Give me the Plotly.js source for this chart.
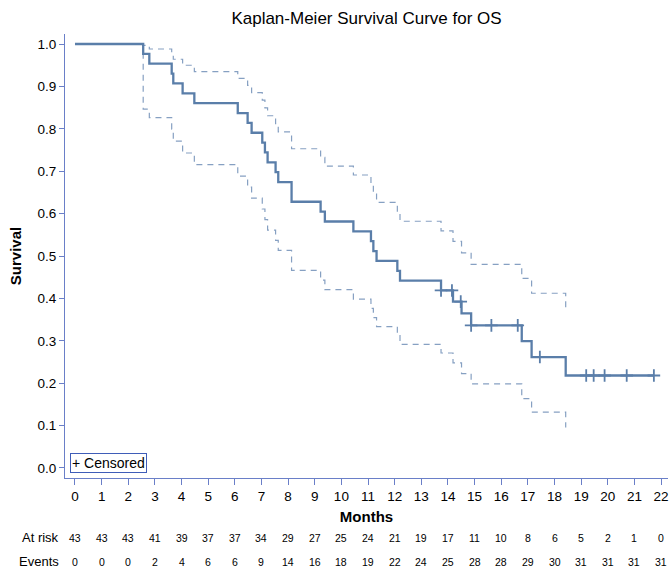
<!DOCTYPE html>
<html>
<head>
<meta charset="utf-8">
<script src="https://cdn.plot.ly/plotly-3.0.1.min.js"></script>
<style>html,body{margin:0;padding:0;background:#fff;}#chart{width:670px;height:570px;}</style>
</head>
<body>
<div id="chart"></div>
<script>
// Event (step) times in months and Kaplan-Meier survival after each step
const eventTimes = [0, 2.56, 2.79, 3.63, 3.69, 4.04, 4.48, 6.11, 6.48, 6.63, 7.03, 7.13, 7.23, 7.53, 7.63, 8.13,
  9.22, 9.38, 10.45, 11.11, 11.20, 11.32, 12.10, 12.20, 13.74, 14.19, 14.51, 14.87, 16.77, 17.14, 18.42];
const survival = [1, 0.9767, 0.9535, 0.9302, 0.9070, 0.8837, 0.8605, 0.8372, 0.8140, 0.7907, 0.7674, 0.7442,
  0.7209, 0.6977, 0.6744, 0.6279, 0.6047, 0.5814, 0.5581, 0.5349, 0.5116, 0.4884, 0.4651, 0.4419, 0.4187,
  0.3925, 0.3645, 0.3364, 0.2990, 0.2617, 0.2181];
const lastFollowUp = 21.73;
// 95% confidence limits at each step
const lowerCL = [1, 0.8462, 0.8266, 0.7991, 0.7709, 0.7429, 0.7155, 0.6886, 0.6623, 0.6364, 0.6109, 0.5859,
  0.5612, 0.5370, 0.5131, 0.4663, 0.4433, 0.4208, 0.3985, 0.3765, 0.3548, 0.3334, 0.3124, 0.2916, 0.2712,
  0.2477, 0.2226, 0.1983, 0.1636, 0.1316, 0.0954];
const upperCL = [1, 0.9967, 0.9882, 0.9770, 0.9640, 0.9499, 0.9348, 0.9189, 0.9023, 0.8851, 0.8675, 0.8494,
  0.8308, 0.8119, 0.7926, 0.7529, 0.7326, 0.7120, 0.6910, 0.6698, 0.6483, 0.6265, 0.6044, 0.5820, 0.5593,
  0.5343, 0.5076, 0.4803, 0.4471, 0.4121, 0.3726];
// Censored observations
const censorTimes = [13.74, 14.15, 14.48, 14.87, 15.63, 16.62, 17.45, 19.19, 19.47, 19.88, 20.71, 21.73];
const censorSurv = [0.4187, 0.4187, 0.3925, 0.3364, 0.3364, 0.3364, 0.2617, 0.2181, 0.2181, 0.2181, 0.2181, 0.2181];
// Risk table
const riskTimes = [0,1,2,3,4,5,6,7,8,9,10,11,12,13,14,15,16,17,18,19,20,21,22];
const atRisk = [43,43,43,41,39,37,37,34,29,27,25,24,21,19,17,11,10,8,6,5,2,1,0];
const events = [0,0,0,2,4,6,6,9,14,16,18,19,22,24,25,28,28,29,30,31,31,31,31];

const lineColor = '#5a7ea9';
const bandColor = '#86a0c2';
const axisColor = '#6a7fc8';
const font = 'Liberation Sans, Arial, sans-serif';

const kmX = eventTimes.concat([lastFollowUp]);
const kmY = survival.concat([survival[survival.length - 1]]);

const traces = [
  {x: eventTimes, y: lowerCL, mode: 'lines', line: {shape: 'hv', color: bandColor, width: 1.2, dash: '6px,5px'}, hoverinfo: 'skip'},
  {x: eventTimes, y: upperCL, mode: 'lines', line: {shape: 'hv', color: bandColor, width: 1.2, dash: '6px,5px'}, hoverinfo: 'skip'},
  {x: kmX, y: kmY, mode: 'lines', line: {shape: 'hv', color: lineColor, width: 2.3}},
  {x: censorTimes, y: censorSurv, mode: 'markers',
   marker: {symbol: 'cross-thin', size: 9, color: lineColor, line: {color: lineColor, width: 1.8}}}
];

const annotations = [];
riskTimes.forEach((t, i) => {
  annotations.push({x: t, y: -0.135, xref: 'x', yref: 'paper', text: String(atRisk[i]), showarrow: false,
    font: {family: font, size: 10.5, color: '#000'}, xanchor: 'center', yanchor: 'middle'});
  annotations.push({x: t, y: -0.189, xref: 'x', yref: 'paper', text: String(events[i]), showarrow: false,
    font: {family: font, size: 10.5, color: '#000'}, xanchor: 'center', yanchor: 'middle'});
});
annotations.push({x: -0.006, y: -0.135, xref: 'paper', yref: 'paper', text: 'At risk', showarrow: false,
  font: {family: font, size: 13, color: '#000'}, xanchor: 'right', yanchor: 'middle'});
annotations.push({x: -0.006, y: -0.189, xref: 'paper', yref: 'paper', text: 'Events', showarrow: false,
  font: {family: font, size: 13, color: '#000'}, xanchor: 'right', yanchor: 'middle'});
annotations.push({x: 0.009, y: 0.012, xref: 'paper', yref: 'paper', text: '+ Censored', showarrow: false,
  font: {family: font, size: 14, color: '#000'}, xanchor: 'left', yanchor: 'bottom',
  bordercolor: '#3f5db8', borderwidth: 1, borderpad: 1, bgcolor: '#fff'});

const layout = {
  width: 670, height: 570,
  margin: {l: 65, r: 2, t: 34, b: 92},
  paper_bgcolor: '#fff', plot_bgcolor: '#fff',
  showlegend: false,
  font: {family: font, color: '#000'},
  title: {text: 'Kaplan-Meier Survival Curve for OS', x: 0.5, xref: 'paper', xanchor: 'center',
    y: 1 - 18/570, yref: 'container', yanchor: 'middle', font: {family: font, size: 17, color: '#000'}},
  xaxis: {
    range: [-0.375, 22.26], tickmode: 'linear', tick0: 0, dtick: 1,
    showgrid: false, zeroline: false, showline: true, linecolor: axisColor, linewidth: 1,
    ticks: 'outside', ticklen: 6, tickcolor: axisColor, tickwidth: 1,
    tickfont: {family: font, size: 13.5, color: '#000'},
    title: {text: '<b>Months</b>', standoff: 8, font: {family: font, size: 15, color: '#000'}}
  },
  yaxis: {
    range: [-0.0236, 1.0236], tickmode: 'linear', tick0: 0, dtick: 0.1, tickformat: '.1f',
    showgrid: false, zeroline: false, showline: true, linecolor: axisColor, linewidth: 1,
    ticks: 'outside', ticklen: 5, tickcolor: axisColor, tickwidth: 1,
    tickfont: {family: font, size: 13.5, color: '#000'},
    title: {text: '<b>Survival</b>', standoff: 12, font: {family: font, size: 15, color: '#000'}}
  },
  annotations: annotations
};

Plotly.newPlot('chart', traces, layout, {displayModeBar: false, staticPlot: true});
</script>
</body>
</html>
